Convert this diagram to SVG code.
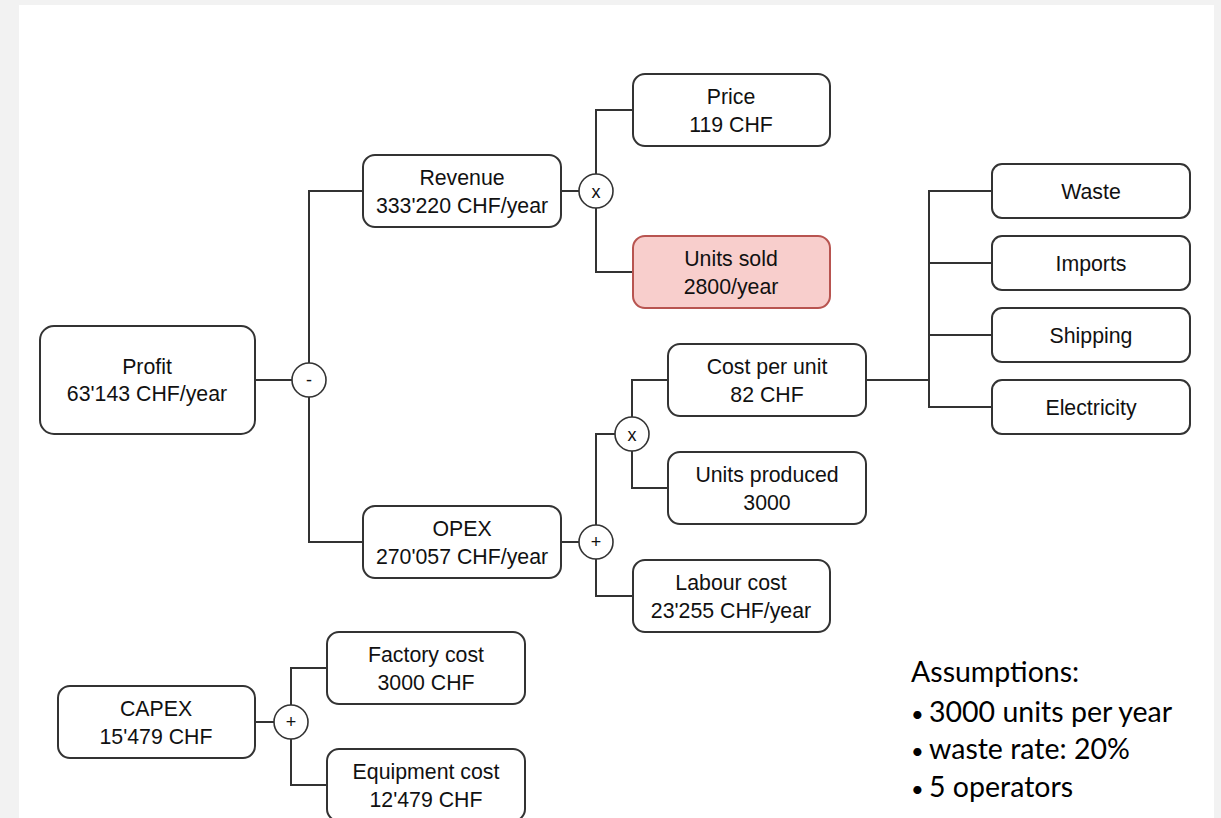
<svg xmlns="http://www.w3.org/2000/svg" width="1221" height="818" viewBox="0 0 1221 818">
<style>
.box{fill:#fff;stroke:#333;stroke-width:2}
.red{fill:#f8cecc;stroke:#b85450;stroke-width:2}
.op{fill:#fff;stroke:#333;stroke-width:1.6}
.t{font-family:"Liberation Sans",Arial,sans-serif;font-size:21.3px;fill:#111;text-anchor:middle}
.o{font-family:"Liberation Sans",Arial,sans-serif;font-size:18px;fill:#111;text-anchor:middle}
.c{fill:none;stroke:#333;stroke-width:2}
.a{font-family:Lato,"Open Sans",sans-serif;font-size:28.5px;fill:#000}
.b{font-size:22px}
</style>
<rect x="0" y="0" width="1221" height="818" fill="#f2f2f2"/>
<rect x="19" y="5" width="1195" height="813" fill="#fff"/>
<g id="connectors">
<path class="c" d="M255 380H292"/>
<path class="c" d="M309 363V191H363"/>
<path class="c" d="M309 397V542H363"/>
<path class="c" d="M561 191H579"/>
<path class="c" d="M596 174V110H633"/>
<path class="c" d="M596 208V272H633"/>
<path class="c" d="M561 542H579"/>
<path class="c" d="M596 525V434H615"/>
<path class="c" d="M596 559V596H633"/>
<path class="c" d="M632 417V380H668"/>
<path class="c" d="M632 451V488H668"/>
<path class="c" d="M866 380H929"/>
<path class="c" d="M992 191H929V407H992"/>
<path class="c" d="M929 263H992"/>
<path class="c" d="M929 335H992"/>
<path class="c" d="M255 722H274"/>
<path class="c" d="M291 705V668H327"/>
<path class="c" d="M291 739V785H327"/>
</g>
<g id="profit"><rect class="box" x="40" y="326" width="215" height="108" rx="14"/><text class="t" x="147" y="374">Profit</text><text class="t" x="147" y="401">63'143 CHF/year</text></g>
<g id="op-minus"><circle class="op" cx="309" cy="380" r="17"/><text class="o" x="309" y="386">-</text></g>
<g id="revenue"><rect class="box" x="363" y="155" width="198" height="72" rx="12"/><text class="t" x="462" y="184.5">Revenue</text><text class="t" x="462" y="212.5">333'220 CHF/year</text></g>
<g id="op-times1"><circle class="op" cx="596" cy="191" r="17"/><text class="o" x="596" y="197.5">x</text></g>
<g id="price"><rect class="box" x="633" y="74" width="197" height="72" rx="12"/><text class="t" x="731" y="103.5">Price</text><text class="t" x="731" y="131.5">119 CHF</text></g>
<g id="units-sold"><rect class="red" x="633" y="236" width="197" height="72" rx="12"/><text class="t" x="731" y="265.5">Units sold</text><text class="t" x="731" y="293.5">2800/year</text></g>
<g id="opex"><rect class="box" x="363" y="506" width="198" height="72" rx="12"/><text class="t" x="462" y="535.5">OPEX</text><text class="t" x="462" y="563.5">270'057 CHF/year</text></g>
<g id="op-plus1"><circle class="op" cx="596" cy="542" r="17"/><text class="o" x="596" y="547.5">+</text></g>
<g id="op-times2"><circle class="op" cx="632" cy="434" r="17"/><text class="o" x="632" y="440.5">x</text></g>
<g id="cost-per-unit"><rect class="box" x="668" y="344" width="198" height="72" rx="12"/><text class="t" x="767" y="373.5">Cost per unit</text><text class="t" x="767" y="401.5">82 CHF</text></g>
<g id="units-produced"><rect class="box" x="668" y="452" width="198" height="72" rx="12"/><text class="t" x="767" y="481.5">Units produced</text><text class="t" x="767" y="509.5">3000</text></g>
<g id="labour-cost"><rect class="box" x="633" y="560" width="197" height="72" rx="12"/><text class="t" x="731" y="589.5">Labour cost</text><text class="t" x="731" y="617.5">23'255 CHF/year</text></g>
<g id="waste"><rect class="box" x="992" y="164" width="198" height="54" rx="10"/><text class="t" x="1091" y="198.5">Waste</text></g>
<g id="imports"><rect class="box" x="992" y="236" width="198" height="54" rx="10"/><text class="t" x="1091" y="270.5">Imports</text></g>
<g id="shipping"><rect class="box" x="992" y="308" width="198" height="54" rx="10"/><text class="t" x="1091" y="342.5">Shipping</text></g>
<g id="electricity"><rect class="box" x="992" y="380" width="198" height="54" rx="10"/><text class="t" x="1091" y="414.5">Electricity</text></g>
<g id="capex"><rect class="box" x="58" y="686" width="197" height="72" rx="12"/><text class="t" x="156" y="715.5">CAPEX</text><text class="t" x="156" y="743.5">15'479 CHF</text></g>
<g id="op-plus2"><circle class="op" cx="291" cy="722" r="17"/><text class="o" x="291" y="727.5">+</text></g>
<g id="factory-cost"><rect class="box" x="327" y="632" width="198" height="72" rx="12"/><text class="t" x="426" y="661.5">Factory cost</text><text class="t" x="426" y="689.5">3000 CHF</text></g>
<g id="equipment-cost"><rect class="box" x="327" y="749" width="198" height="72" rx="12"/><text class="t" x="426" y="778.5">Equipment cost</text><text class="t" x="426" y="806.5">12'479 CHF</text></g>
<g id="assumptions">
<text class="a" x="911" y="682">Assumptions:</text>
<text class="a" y="722"><tspan class="b" x="911">•</tspan><tspan x="929">3000 units per year</tspan></text>
<text class="a" y="759"><tspan class="b" x="911">•</tspan><tspan x="929">waste rate: 20%</tspan></text>
<text class="a" y="797"><tspan class="b" x="911">•</tspan><tspan x="929">5 operators</tspan></text>
</g>
</svg>
